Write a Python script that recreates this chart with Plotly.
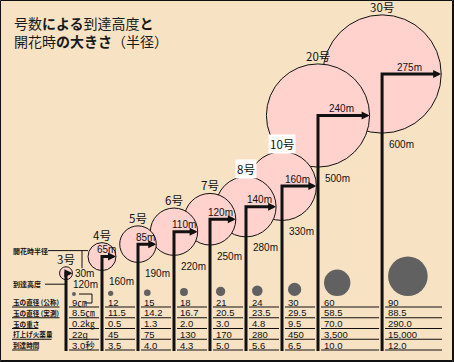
import plotly.graph_objects as go

# ---------------- data ----------------
shell_no = ["3号", "4号", "5号", "6号", "7号", "8号", "10号", "20号", "30号"]
burst_radius_m = [30, 65, 85, 110, 120, 140, 160, 240, 275]
height_m = [120, 160, 190, 220, 250, 280, 330, 500, 600]
diam_nominal_cm = [9, 12, 15, 18, 21, 24, 30, 60, 90]
diam_measured_cm = [8.5, 11.5, 14.2, 16.7, 20.5, 23.5, 29.5, 58.5, 88.5]
weight_kg = [0.2, 0.5, 1.3, 2.0, 3.0, 4.8, 9.5, 70.0, 290.0]
powder_g = [22, 45, 75, 130, 170, 280, 450, 3500, 15000]
time_s = [3.0, 3.5, 4.0, 4.3, 5.0, 5.6, 6.5, 10.0, 12.0]
row_labels = ["玉の直径 (公称)", "玉の直径 (実測)", "玉の重さ", "打上げ火薬量", "到達時間"]
title_lines = ["号数<b>による</b>到達高度<b>と</b>", "開花時<b>の大きさ</b>（半径）"]
side_labels = ["開花時半径", "到達高度"]

# ---------------- layout / style constants ----------------
W, H = 454, 362
BG = "#F8E2C4"
PINK = "#FFD2CE"
DOT = "#616161"
INK = "#111111"
CJK = "Noto Sans CJK JP"
LAT = "Liberation Sans, Noto Sans CJK JP"
X0, COL = 66.0, 36.0            # first column pixel, pixels per column unit
col_gap = [1, 1, 1, 1, 1, 1, 1, 1.78]
Y0, PPM = 323.0, 0.415          # pixel row of 0 m, pixels per metre of height
R_PX_PER_M = 0.215              # circle radius scale
DOT_PX_PER_CM = 0.44            # shell dot scale
PILLAR_BOTTOM_PY = 351
DOT_BOTTOM_PY = 296
ROW_Y0, ROW_DY = 302, 10.75
LAST_COL_RIGHT = 442
white_bg_labels = {"8号", "10号"}

u = [0.0]
for g in col_gap:
    u.append(u[-1] + g)


def px_x(v):
    return X0 + v * COL


def px_y(m):
    return Y0 - m * PPM


def m_from_py(py):
    return (Y0 - py) / PPM


def fx(px):
    return px / W


def fy(py):
    return 1 - py / H


n = len(shell_no)
r_px = [R_PX_PER_M * r for r in burst_radius_m]
pillar_px = [px_x(v) for v in u]
top_py = [px_y(h) for h in height_m]

fig = go.Figure()

# bursts (largest drawn first so smaller ones sit on top)
order = list(range(n))[::-1]
fig.add_trace(go.Scatter(
    x=[u[i] for i in order], y=[height_m[i] for i in order], mode="markers",
    marker=dict(size=[burst_radius_m[i] for i in order], sizemode="diameter",
                sizeref=1 / (2 * R_PX_PER_M), color=PINK, opacity=1,
                line=dict(color=INK, width=1)),
    hoverinfo="skip"))

# rising paths (pillar + radius arm)
bottom_m = m_from_py(PILLAR_BOTTOM_PY)
lx, ly = [], []
for i in range(n):
    tip_u = u[i] + (r_px[i] - 3) / COL
    lx += [u[i], u[i], tip_u, None]
    ly += [bottom_m, height_m[i], height_m[i], None]
fig.add_trace(go.Scatter(x=lx, y=ly, mode="lines",
                         line=dict(color=INK, width=3), hoverinfo="skip"))

# shell size dots, bottom aligned above the table
dot_d = [DOT_PX_PER_CM * d for d in diam_nominal_cm]
dot_x = [u[i] + (6 + dot_d[i] / 2) / COL for i in range(n)]
dot_y = [m_from_py(DOT_BOTTOM_PY - dot_d[i] / 2) for i in range(n)]
fig.add_trace(go.Scatter(
    x=dot_x, y=dot_y, mode="markers",
    marker=dict(size=diam_nominal_cm, sizemode="diameter", opacity=1,
                sizeref=1 / DOT_PX_PER_CM, color=DOT, line=dict(width=0)),
    hoverinfo="skip"))

ann = []
shapes = []

for i in range(n):
    tip_u = u[i] + r_px[i] / COL
    # arrowhead at circle edge
    ann.append(dict(x=tip_u, y=height_m[i], xref="x", yref="y", text="",
                    showarrow=True, ax=-6, ay=0, arrowhead=2, arrowsize=0.8,
                    arrowwidth=2, arrowcolor=INK))
    # shell number above circle
    lab = dict(x=u[i], y=height_m[i], xref="x", yref="y", text=shell_no[i],
               showarrow=False, yshift=r_px[i] + 8, yanchor="middle",
               font=dict(family=CJK, size=11.5, color=INK))
    if shell_no[i] in white_bg_labels:
        lab["bgcolor"] = "white"
        lab["borderpad"] = 1
    ann.append(lab)
    small = r_px[i] < 10
    # radius label
    if small:
        ann.append(dict(x=tip_u, y=height_m[i], xref="x", yref="y",
                        text=f"{burst_radius_m[i]}m", showarrow=False,
                        xanchor="left", yanchor="middle", xshift=1,
                        font=dict(family=LAT, size=10, color=INK)))
    else:
        ann.append(dict(x=u[i] + r_px[i] / 2 / COL, y=height_m[i], xref="x", yref="y",
                        text=f"{burst_radius_m[i]}m", showarrow=False,
                        yanchor="middle", xshift=-2, yshift=7,
                        font=dict(family=LAT, size=10, color=INK)))
    # height label
    ann.append(dict(x=u[i], y=height_m[i], xref="x", yref="y",
                    text=f"{height_m[i]}m", showarrow=False, xanchor="left",
                    yanchor="middle",
                    xshift=5, yshift=-(11 if small else r_px[i] + 11),
                    font=dict(family=LAT, size=10, color=INK)))

# title (one two-line text block)
ann.append(dict(x=fx(13), y=fy(31.5), xref="paper", yref="paper",
                text="<br>".join(title_lines), showarrow=False, xanchor="left",
                yanchor="middle", align="left", borderpad=0,
                font=dict(family=CJK, size=14, color="#1a1a1a")))

line_style = dict(color=INK, width=1)

# side labels with leader lines
lead1_y = top_py[1] - 6
lead2_y = top_py[0] + 11
ann.append(dict(x=fx(12), y=fy(lead1_y), xref="paper", yref="paper",
                text=f"<b>{side_labels[0]}</b>", showarrow=False, xanchor="left",
                yanchor="middle",
                xshift=-1, font=dict(family=CJK, size=7, color=INK)))
ann.append(dict(x=fx(12), y=fy(lead2_y), xref="paper", yref="paper",
                text=f"<b>{side_labels[1]}</b>", showarrow=False, xanchor="left",
                yanchor="middle",
                xshift=-1, font=dict(family=CJK, size=7, color=INK)))
shapes.append(dict(type="line", xref="paper", yref="paper",
                   x0=fx(48), x1=fx(pillar_px[1] - 14), y0=fy(lead1_y), y1=fy(lead1_y),
                   line=line_style))
shapes.append(dict(type="line", xref="paper", yref="paper",
                   x0=fx(pillar_px[0] + 16), x1=fx(pillar_px[0] + 16),
                   y0=fy(lead1_y), y1=fy(top_py[0] - 5), line=line_style))
shapes.append(dict(type="line", xref="paper", yref="paper",
                   x0=fx(45), x1=fx(pillar_px[0]), y0=fy(lead2_y), y1=fy(lead2_y),
                   line=line_style))

# bracket from the smallest dot to its value
dcy = DOT_BOTTOM_PY - dot_d[0] / 2
bx = pillar_px[0] + 26
shapes.append(dict(type="path", xref="paper", yref="paper",
                   path=(f"M {fx(pillar_px[0] + 13)} {fy(dcy)} L {fx(bx)} {fy(dcy)} "
                         f"L {fx(bx)} {fy(ROW_Y0 + 1)} L {fx(pillar_px[0] + 19)} {fy(ROW_Y0 + 1)}"),
                   line=line_style))

# table
row_vals = [
    [f"{diam_nominal_cm[0]}㎝"] + [str(v) for v in diam_nominal_cm[1:]],
    [f"{diam_measured_cm[0]}㎝"] + [f"{v:.1f}" for v in diam_measured_cm[1:]],
    [f"{weight_kg[0]}㎏"] + [f"{v:.1f}" for v in weight_kg[1:]],
    [f"{powder_g[0]}g"] + [f"{v:,}" for v in powder_g[1:]],
    [f"{time_s[0]:.1f}秒"] + [f"{v:.1f}" for v in time_s[1:]],
]


def text_w(s, fs):
    return sum((1.0 if ord(c) > 0x2000 else 0.4) for c in s) * fs


LBL_FS = 6.6
for k, lab in enumerate(row_labels):
    ry = ROW_Y0 + ROW_DY * k
    ann.append(dict(x=fx(12), y=fy(ry), xref="paper", yref="paper",
                    text=f"<b>{lab}</b>", showarrow=False, xanchor="left",
                    yanchor="middle",
                    xshift=-1, font=dict(family=CJK, size=LBL_FS, color=INK)))
    shapes.append(dict(type="line", xref="paper", yref="paper",
                       x0=fx(12), x1=fx(12 + text_w(lab, LBL_FS)),
                       y0=fy(ry + 5), y1=fy(ry + 5), line=line_style))
    for i in range(n):
        ann.append(dict(x=fx(pillar_px[i] + 5), y=fy(ry), xref="paper", yref="paper",
                        text=row_vals[k][i], showarrow=False, xanchor="left",
                        yanchor="middle",
                        xshift=-1, font=dict(family=LAT, size=9.5, color=INK)))
        right = pillar_px[i + 1] - 3 if i < n - 1 else LAST_COL_RIGHT
        shapes.append(dict(type="line", xref="paper", yref="paper",
                           x0=fx(pillar_px[i] + 3), x1=fx(right),
                           y0=fy(ry + 5), y1=fy(ry + 5), line=line_style))

# frame
shapes.append(dict(type="rect", xref="paper", yref="paper",
                   x0=fx(0.5), x1=fx(452.5), y0=fy(0.5), y1=fy(360.5),
                   line=dict(color=INK, width=1)))
shapes.append(dict(type="line", xref="paper", yref="paper",
                   x0=fx(453.5), x1=fx(453.5), y0=fy(0), y1=fy(362),
                   line=dict(color=INK, width=1)))
shapes.append(dict(type="line", xref="paper", yref="paper",
                   x0=fx(0), x1=fx(454), y0=fy(361.5), y1=fy(361.5),
                   line=dict(color=INK, width=1)))

fig.update_layout(
    width=W, height=H, margin=dict(l=0, r=0, t=0, b=0),
    paper_bgcolor=BG, plot_bgcolor=BG, showlegend=False, hovermode=False,
    xaxis=dict(range=[-X0 / COL, (W - X0) / COL], visible=False, fixedrange=True),
    yaxis=dict(range=[m_from_py(H), m_from_py(0)], visible=False, fixedrange=True),
    annotations=ann, shapes=shapes,
)

fig.write_html("out.html", config={"displayModeBar": False},
               post_script="document.body.style.margin='0';document.body.style.overflow='hidden';")
